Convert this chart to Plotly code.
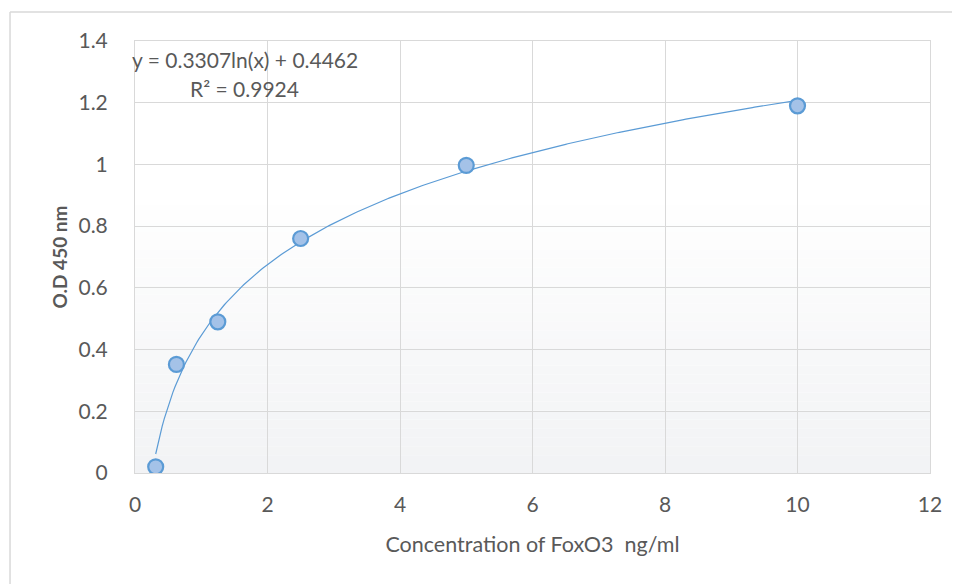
import numpy as np
import plotly.graph_objects as go

conc = [0.3125, 0.625, 1.25, 2.5, 5, 10]
od = [0.02, 0.352, 0.49, 0.76, 0.997, 1.19]
fit_a = 0.3307
fit_b = 0.4462
eq_text = "y = 0.3307ln(x) + 0.4462"
r2_text = "R² = 0.9924"
x_title = "Concentration of FoxO3  ng/ml"
y_title = "O.D 450 nm"

xs = np.linspace(min(conc), max(conc), 300)
ys = fit_a * np.log(xs) + fit_b

FONT = "Lato, Open Sans, sans-serif"
GRAY = "#595959"
FS = 21

fig = go.Figure()
fig.add_trace(go.Scatter(x=xs, y=ys, mode="lines",
                         line=dict(color="#5b9bd5", width=1.2),
                         hoverinfo="skip", showlegend=False))
fig.add_trace(go.Scatter(x=conc, y=od, mode="markers",
                         marker=dict(size=15, color="#a4c2e8",
                                     line=dict(color="#5b9bd5", width=2.2)),
                         showlegend=False))

shapes = []
n = 30
top = 0.62
for i in range(n):
    y0 = top * i / n
    y1 = top * (i + 1) / n
    t = (i + 0.5) / n
    c = int(242 + (255 - 242) * t)
    c2 = int(243 + (255 - 243) * t)
    c3 = int(245 + (255 - 245) * t)
    shapes.append(dict(type="rect", xref="x domain", yref="y domain",
                       x0=0, x1=1, y0=y0, y1=y1, layer="below",
                       line=dict(width=0), fillcolor=f"rgb({c},{c2},{c3})"))
shapes.append(dict(type="line", xref="paper", yref="paper",
                   x0=-0.1572, x1=1.2, y0=1.067, y1=1.067,
                   line=dict(color="#d9d9d9", width=1.5)))
shapes.append(dict(type="line", xref="paper", yref="paper",
                   x0=-0.1572, x1=-0.1572, y0=1.067, y1=-0.3,
                   line=dict(color="#d9d9d9", width=1.5)))

fig.update_layout(
    width=960, height=584,
    margin=dict(l=127, r=38, t=33, b=119),
    paper_bgcolor="white", plot_bgcolor="white",
    font=dict(family=FONT, color=GRAY, size=FS),
    shapes=shapes,
    xaxis=dict(range=[0, 12], dtick=2, tick0=0,
               showgrid=True, gridcolor="#d9d9d9", gridwidth=1,
               showline=True, linecolor="#d9d9d9", mirror=True,
               zeroline=False, ticks="outside", ticklen=13,
               tickcolor="rgba(0,0,0,0)",
               tickfont=dict(size=FS, color=GRAY),
               title=dict(text=x_title, font=dict(size=FS + 0.5, color=GRAY),
                          standoff=21)),
    yaxis=dict(range=[0, 1.4], dtick=0.2, tick0=0,
               showgrid=True, gridcolor="#d9d9d9", gridwidth=1,
               showline=True, linecolor="#d9d9d9", mirror=True,
               zeroline=False, ticks="outside", ticklen=22,
               tickcolor="rgba(0,0,0,0)",
               tickfont=dict(size=FS, color=GRAY),
               title=dict(text="<b>" + y_title + "</b>",
                          font=dict(size=FS - 2, color=GRAY), standoff=5)),
    annotations=[
        dict(text=eq_text, xref="paper", yref="paper", x=0.138, y=0.958,
             showarrow=False, font=dict(size=FS, color=GRAY),
             xanchor="center", yanchor="middle"),
        dict(text=r2_text, xref="paper", yref="paper", x=0.138, y=0.891,
             showarrow=False, font=dict(size=FS, color=GRAY),
             xanchor="center", yanchor="middle"),
    ],
)

fig.write_html("out.html")
